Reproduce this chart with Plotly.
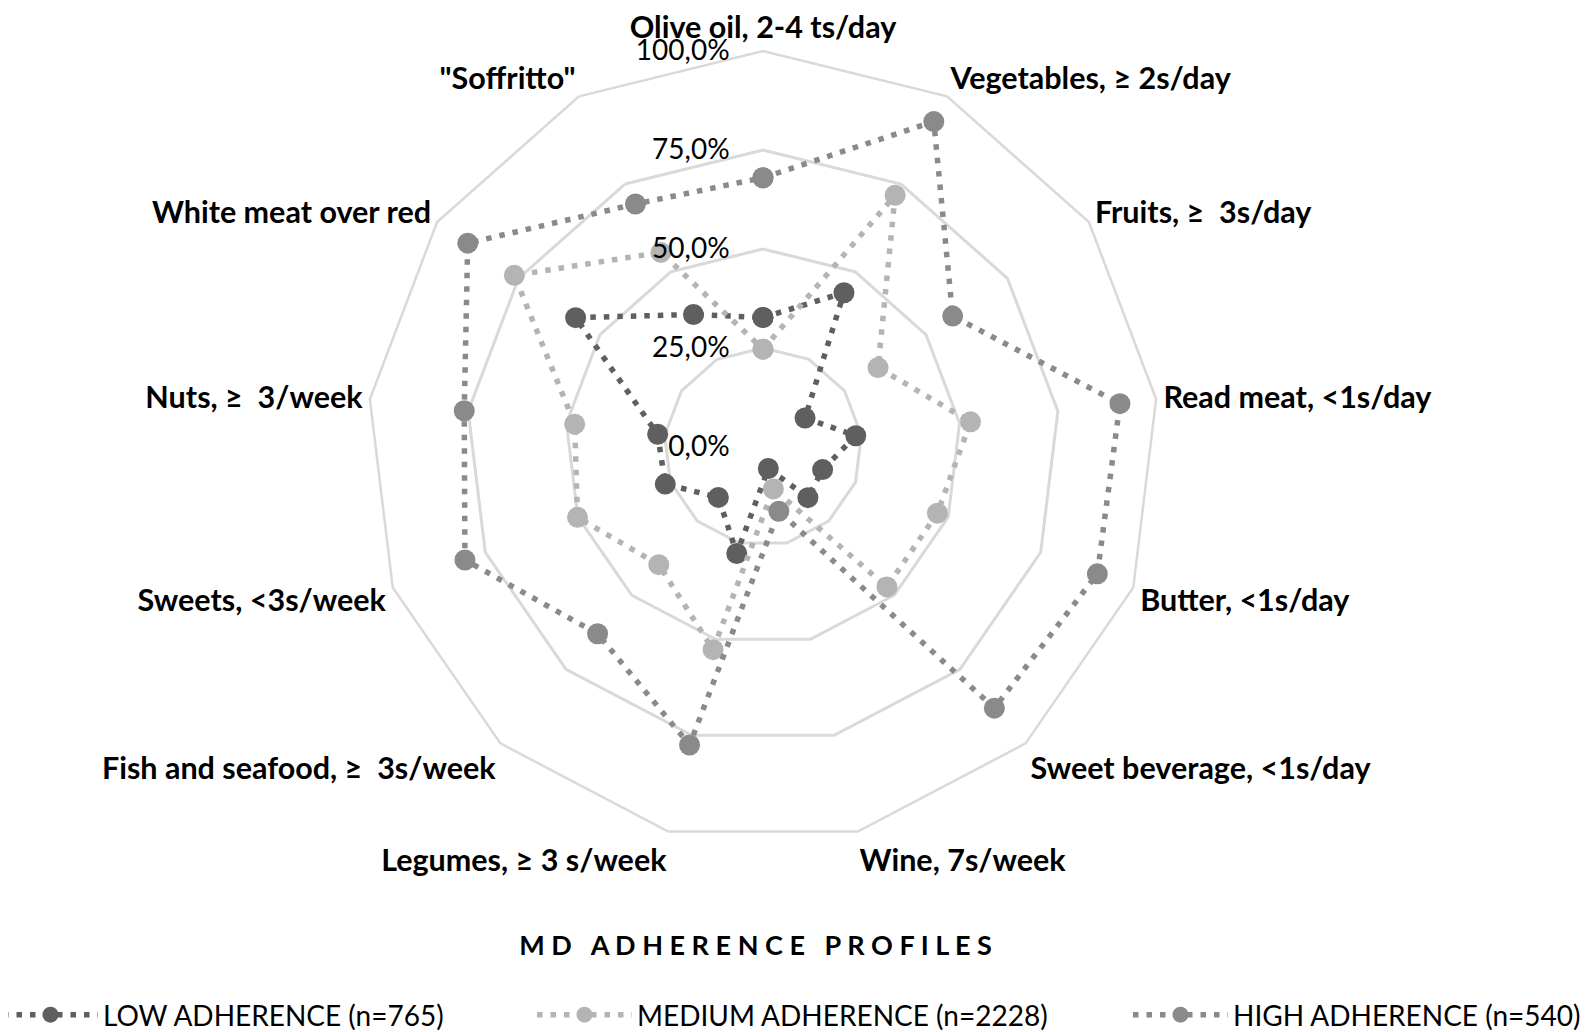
import plotly.graph_objects as go

categories = [
    "Olive oil, 2-4 ts/day",
    "Vegetables, ≥ 2s/day",
    "Fruits, ≥  3s/day",
    "Read meat, <1s/day",
    "Butter, <1s/day",
    "Sweet beverage, <1s/day",
    "Wine, 7s/week",
    "Legumes, ≥ 3 s/week",
    "Fish and seafood, ≥  3s/week",
    "Sweets, <3s/week",
    "Nuts, ≥  3/week",
    "White meat over red",
    "\"Soffritto\"",
]

low = [32.7, 44.0, 12.9, 23.6, 16.1, 17.1, 5.6, 27.7, 17.0, 26.4, 26.8, 57.5, 37.8]
medium = [24.7, 71.8, 35.3, 52.8, 47.1, 47.2, 10.9, 52.7, 39.7, 50.1, 47.9, 76.3, 55.5]
high = [68.0, 92.8, 58.2, 90.8, 90.3, 88.1, 16.7, 77.5, 63.0, 80.5, 76.0, 90.6, 69.3]

series_names = ["LOW ADHERENCE (n=765)", "MEDIUM ADHERENCE (n=2228)", "HIGH ADHERENCE (n=540)"]
series_colors = ["#5f5f5f", "#b4b4b4", "#8a8a8a"]
legend_ids = ["legend", "legend2", "legend3"]

tick_vals = [0, 25, 50, 75, 100]
tick_text = ["0,0%", "25,0%", "50,0%", "75,0%", "100,0%"]

FONT = "Lato, 'Open Sans', sans-serif"
PAD = "\u00a0" * 4

fig = go.Figure()
for name, vals, col, lg in zip(series_names, [low, medium, high], series_colors, legend_ids):
    fig.add_trace(go.Scatterpolar(
        r=vals + [vals[0]],
        theta=categories + [categories[0]],
        mode="lines+markers",
        name=name,
        legend=lg,
        line=dict(color=col, width=5.5, dash="5.5px,8px"),
        marker=dict(color=col, size=21),
    ))

W, H = 1594, 1032


def legend_at(xpx):
    return dict(
        orientation="h",
        x=xpx / W,
        xanchor="left",
        y=25 / H,
        yanchor="middle",
        font=dict(size=28, family=FONT, color="#000000"),
        itemwidth=95,
        bgcolor="rgba(0,0,0,0)",
    )


fig.update_layout(
    width=W,
    height=H,
    margin=dict(l=0, r=0, t=0, b=0, autoexpand=False),
    paper_bgcolor="white",
    plot_bgcolor="white",
    font=dict(family=FONT, color="#000000"),
    polar=dict(
        domain=dict(x=[359 / W, 1151 / W], y=[(H - 835) / H, (H - 43) / H]),
        bgcolor="white",
        gridshape="linear",
        radialaxis=dict(
            range=[0, 100],
            tickvals=tick_vals,
            ticktext=[t + PAD for t in tick_text],
            angle=90,
            tickangle=90,
            showline=False,
            ticks="",
            gridcolor="#d9d9d9",
            gridwidth=2.5,
            tickfont=dict(size=28, family=FONT, color="#000000"),
            side="counterclockwise",
        ),
        angularaxis=dict(
            rotation=90,
            direction="clockwise",
            showgrid=False,
            showline=True,
            linecolor="#d9d9d9",
            linewidth=2.5,
            ticks="",
            tickfont=dict(size=30.5, family=FONT, color="#000000", weight="bold"),
        ),
    ),
    title=dict(
        text="M D   A D H E R E N C E   P R O F I L E S",
        x=0.469,
        xanchor="center",
        y=1 - 938 / H,
        yanchor="middle",
        yref="container",
        font=dict(size=27, family=FONT, color="#000000", weight="bold"),
    ),
    showlegend=True,
    legend=legend_at(-10),
    legend2=legend_at(524),
    legend3=legend_at(1120),
)

fig.write_html("out.html")
